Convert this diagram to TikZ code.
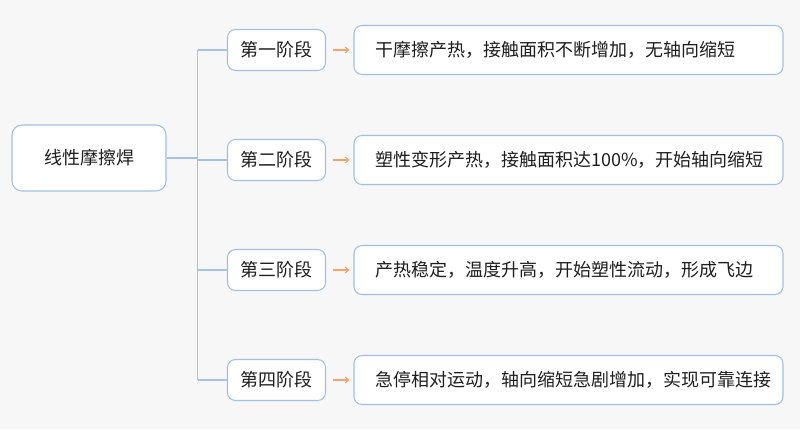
\documentclass[tikz,border=0pt]{standalone}
\usepackage{fontspec}
\setmainfont{Noto Sans CJK SC}
\usetikzlibrary{arrows.meta}
\definecolor{bg}{HTML}{F7F7F7}
\definecolor{bd}{HTML}{9DBFEA}
\definecolor{ln}{HTML}{A4C2E8}
\definecolor{arr}{HTML}{F5A26B}
\definecolor{tx}{HTML}{1E1E1E}
\begin{document}
\begin{tikzpicture}[x=0.75pt,y=-0.75pt,
  box/.style={draw=bd,fill=white,line width=0.8pt,rounded corners=6pt,inner sep=0pt,text=tx,font=\fontsize{13.5pt}{15pt}\selectfont},
  rootbox/.style={box,minimum width=115.5pt,minimum height=49.5pt,rounded corners=7.5pt},
  stagebox/.style={box,minimum width=73.5pt,minimum height=30.75pt},
  descbox/.style={box,minimum width=321.75pt,minimum height=36.75pt,text width=290pt,align=left},
  conn/.style={draw=ln,line width=0.8pt},
  flow/.style={draw=arr,line width=0.8pt,-{Straight Barb[length=2.6pt,width=4.5pt]}}]
\fill[bg] (0,0) rectangle (800,429);
\useasboundingbox (0,0) rectangle (800,429);
\node[rootbox] (root) at (89,158) {线性摩擦焊};
\node[stagebox] (s1) at (276.5,50) {第一阶段};
\node[stagebox] (s2) at (276.5,160) {第二阶段};
\node[stagebox] (s3) at (276.5,270) {第三阶段};
\node[stagebox] (s4) at (276.5,380) {第四阶段};
\node[descbox] (d1) at (568.5,50) {干摩擦产热，接触面积不断增加，无轴向缩短};
\node[descbox] (d2) at (568.5,160) {塑性变形产热，接触面积达100\%，开始轴向缩短};
\node[descbox] (d3) at (568.5,270) {产热稳定，温度升高，开始塑性流动，形成飞边};
\node[descbox] (d4) at (568.5,380) {急停相对运动，轴向缩短急剧增加，实现可靠连接};
\coordinate (j0) at (197.5,158);
\coordinate (j1) at (197.5,50);
\coordinate (j2) at (197.5,160);
\coordinate (j3) at (197.5,270);
\coordinate (j4) at (197.5,380);
\draw[conn] (root.east) -- (j0);
\draw[conn] (j1) -- (j4);
\foreach \i in {1,2,3,4} {
  \draw[conn] (j\i) -- (s\i.west);
  \draw[flow] ([xshift=5.25pt]s\i.east) -- ([xshift=-3pt]d\i.west);
}
\end{tikzpicture}
\end{document}
